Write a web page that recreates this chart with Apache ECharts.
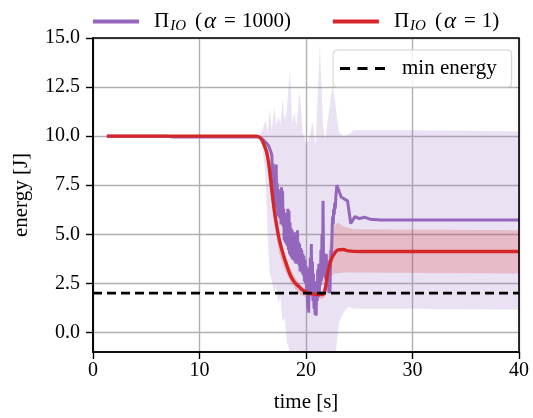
<!DOCTYPE html>
<html>
<head>
<meta charset="utf-8">
<script src="https://cdn.jsdelivr.net/npm/echarts@6/dist/echarts.min.js"></script>
<style>
html,body{margin:0;padding:0;background:#fff;}
#c{width:533px;height:418px;}
</style>
</head>
<body>
<div id="c"></div>
<script>
// ---- data ----
const xTicks = [0, 10, 20, 30, 40];
const yTicks = [0, 2.5, 5, 7.5, 10, 12.5, 15];
const minEnergy = 2;

const tRed = [1.3, 15.4, 15.8, 16.1, 16.3, 16.5, 16.8, 17.0, 17.2, 17.5, 17.9, 18.2, 18.5, 18.8, 19.1, 19.4, 19.7, 20.0, 20.4, 20.8, 21.2, 21.6, 21.8, 22.0, 22.2, 22.4, 22.7, 23.0, 23.5, 24.0, 25, 30, 40];
const vRed = [10.0, 10.0, 9.85, 9.5, 9.2, 8.6, 7.2, 6.3, 5.6, 4.7, 3.9, 3.4, 2.95, 2.65, 2.45, 2.3, 2.15, 2.05, 1.98, 1.95, 1.93, 1.93, 2.2, 2.9, 3.4, 3.75, 4.05, 4.2, 4.22, 4.15, 4.12, 4.12, 4.12];

const tPur = [1.3, 7.0, 7.5, 15.6, 16.0, 16.2, 16.5, 16.7,
  16.80, 16.85, 16.90, 16.95, 17.00, 17.05, 17.10, 17.15, 17.20, 17.25, 17.30, 17.35, 17.40, 17.45, 17.50, 17.55, 17.60, 17.65, 17.70, 17.75, 17.80, 17.85, 17.90, 17.95,
  18.00, 18.05, 18.10, 18.15, 18.20, 18.25, 18.30, 18.35, 18.40, 18.45, 18.50, 18.55, 18.60, 18.65, 18.70, 18.75, 18.80, 18.85, 18.90, 18.95,
  19.00, 19.05, 19.10, 19.15, 19.20, 19.25, 19.30, 19.35, 19.40, 19.45, 19.50, 19.55, 19.60, 19.65, 19.70, 19.75, 19.80, 19.85, 19.90, 19.95,
  20.00, 20.05, 20.10, 20.15, 20.20, 20.25, 20.30, 20.35, 20.40, 20.45, 20.50, 20.55, 20.60, 20.65, 20.70, 20.75, 20.80, 20.85, 20.90, 20.95,
  21.00, 21.05, 21.10, 21.15, 21.20, 21.25, 21.30, 21.35, 21.40, 21.45, 21.50, 21.55, 21.60, 21.65, 21.70, 21.75, 21.80, 21.85, 21.90, 21.95,
  22.00, 22.05, 22.10, 22.15, 22.20, 22.25, 22.30, 22.35, 22.40, 22.45, 22.50, 22.55, 22.60, 22.65, 22.70, 22.75, 22.80, 22.85, 22.90,
  23.0, 23.1, 23.3, 23.6, 23.9, 24.2, 24.6, 25.0, 25.5, 26.0, 27, 40];
const vPur = [10.0, 10.0, 9.96, 9.95, 9.8, 9.7, 9.5, 9.2,
  9.0, 7.2, 8.6, 6.9, 8.0, 6.4, 8.2, 6.6, 8.55, 6.3, 7.6, 5.9, 7.3, 6.0, 7.1, 5.8, 7.0, 5.5, 7.4, 5.6, 7.2, 5.4, 6.3, 4.7,
  6.1, 4.6, 5.9, 4.5, 6.0, 4.4, 6.3, 4.2, 6.2, 4.0, 5.6, 3.9, 5.3, 3.8, 5.2, 3.7, 5.0, 3.9, 4.9, 3.6,
  5.1, 3.5, 4.8, 3.7, 5.2, 3.5, 4.6, 3.4, 4.5, 3.1, 4.3, 3.2, 4.2, 3.0, 4.0, 2.9, 3.9, 2.6, 3.7, 2.5,
  3.4, 2.0, 3.2, 1.2, 2.8, 1.0, 3.3, 2.0, 3.8, 2.2, 4.5, 2.0, 3.6, 1.6, 3.0, 1.2, 2.6, 0.9, 2.2, 0.85,
  2.4, 1.6, 3.2, 1.8, 3.5, 2.0, 3.0, 2.4, 4.2, 2.6, 5.0, 3.0, 6.7, 3.5, 4.0, 2.8, 3.8, 2.7, 4.0, 2.9,
  3.7, 2.4, 3.0, 2.0, 2.6, 2.0, 3.5, 4.2, 4.0, 5.2, 5.9, 5.5, 6.3, 6.0, 6.6, 6.3, 6.9, 7.2, 7.5,
  7.55, 7.2, 6.9, 6.8, 6.7, 5.55, 5.9, 5.8, 5.87, 5.77, 5.73, 5.72];

const tPurBand = [15.5, 15.9, 16.2, 16.4, 16.6, 16.8, 17.0, 17.2, 17.4, 17.6, 17.8, 18.0, 18.2, 18.5, 18.7, 18.9, 19.1, 19.4, 19.7, 20.0, 20.3, 20.6, 20.9, 21.3, 21.6, 21.8, 22.1, 22.5, 22.8, 22.9, 23.1, 23.5, 24.0, 24.5, 30, 40];
const purLow  = [10.0, 9.5, 8.0, 5.0, 3.0, 2.6, 2.0, 2.3, 1.5, 1.8, 0.5, 0.8, -0.5, -2, -2, -2, -2, -2, -2, -2, -2, -2, -2, -2, -2, -2, -2, -2, -2, -0.5, 0.5, 1.0, 1.3, 1.2, 1.2, 1.15];
const purHigh = [10.0, 10.3, 10.8, 10.2, 11.4, 10.3, 11.5, 10.5, 11.0, 10.6, 11.9, 10.8, 11.4, 13.4, 10.6, 11.2, 10.5, 12.3, 10.2, 9.6, 9.8, 10.8, 9.5, 14.7, 10.5, 9.8, 11.0, 12.6, 11.5, 11.0, 10.2, 10.0, 10.1, 10.3, 10.3, 10.25];

const tRedBand = [15.5, 16.0, 16.5, 17.0, 17.5, 18.0, 18.5, 19.0, 19.5, 20.0, 20.5, 21.0, 21.5, 21.8, 22.0, 22.3, 22.6, 23.0, 23.5, 24.5, 40];
const redLow  = [10.0, 9.6, 8.2, 5.6, 4.0, 3.2, 2.6, 2.2, 1.9, 1.8, 1.75, 1.7, 1.7, 1.8, 2.3, 2.8, 3.0, 3.0, 3.05, 3.05, 3.0];
const redHigh = [10.0, 9.9, 8.9, 6.6, 5.0, 4.0, 3.3, 2.8, 2.4, 2.25, 2.15, 2.1, 2.1, 2.3, 3.5, 4.8, 5.4, 5.6, 5.4, 5.25, 5.2];

const NAME_P = 'ΠIO (α = 1000)';
const NAME_R = 'ΠIO (α = 1)';
const NAME_M = 'min energy';

// ---- build ----
const zip = (t, v) => t.map((x, i) => [x, v[i]]);
const zip3 = (t, a, b) => t.map((x, i) => [x, a[i], b[i]]);

const FONT = 'Liberation Serif';
const PURPLE = '#9467bd';
const RED = '#d62728';

function band(t, lo, hi, color) {
  return {
    type: 'custom', silent: true, z: 1,
    data: zip3(t, lo, hi),
    encode: {x: 0, y: [1, 2]},
    renderItem: function (params, api) {
      if (params.dataIndex !== 0) return null;
      const top = t.map((x, i) => api.coord([x, hi[i]]));
      const bot = t.map((x, i) => api.coord([x, lo[i]])).reverse();
      const cs = params.coordSys;
      const pts = echarts.graphic.clipPointsByRect(top.concat(bot),
        {x: cs.x, y: cs.y, width: cs.width, height: cs.height});
      return {type: 'polygon', shape: {points: pts}, style: {fill: color, stroke: null}, silent: true};
    }
  };
}

const chart = echarts.init(document.getElementById('c'), null, {renderer: 'canvas'});
const LF = 21;
const rich = {
  g: {width: 10},
  n: {fontFamily: FONT, fontSize: LF, color: '#000'},
  e: {fontFamily: FONT, fontSize: LF, color: '#000', padding: [0, 6, 0, 7]},
  s: {fontFamily: FONT, fontSize: 15, fontStyle: 'italic', color: '#000', padding: [10, 9, 0, 1]},
  i: {fontFamily: FONT, fontSize: 23, fontStyle: 'italic', color: '#000', padding: [0, 1, 0, 2]}
};
chart.setOption({
  animation: false,
  backgroundColor: '#fff',
  grid: {left: 93, right: 14, top: 38, bottom: 61, containLabel: false,
         show: true, borderColor: '#000', borderWidth: 1.6, backgroundColor: 'transparent', z: 10},
  legend: [{
    data: [NAME_P, NAME_R],
    top: 5, left: 88,
    itemWidth: 46, itemHeight: 12, itemGap: 42,
    icon: 'path://M0,0 L46,0 L46,4 L0,4 Z',
    textStyle: {fontFamily: FONT, fontSize: LF, color: '#000', rich: rich},
    formatter: function (name) {
      if (name === NAME_P) return '{g|}{n|Π}{s|IO}{n|(}{i|α}{e|=}{n|1000)}';
      return '{g|}{n|Π}{s|IO}{n|(}{i|α}{e|=}{n|1)}';
    }
  }, {
    data: [NAME_M],
    left: 333, top: 50,
    itemWidth: 45, itemHeight: 3,
    icon: 'path://M0,0 h10 v3 h-10 z M17.5,0 h10 v3 h-10 z M35,0 h10 v3 h-10 z',
    padding: [8, 15, 8, 7],
    backgroundColor: 'rgba(255,255,255,0.85)',
    borderColor: '#d0d0d0', borderWidth: 1, borderRadius: 4,
    textStyle: {fontFamily: FONT, fontSize: LF, color: '#000', rich: {g: {width: 12}, n: {fontFamily: FONT, fontSize: LF, color: '#000'}}},
    formatter: name => '{g|}{n|' + name + '}'
  }],
  xAxis: {
    type: 'value', min: xTicks[0], max: xTicks[xTicks.length - 1], interval: 10,
    name: 'time [s]', nameLocation: 'middle', nameGap: 40,
    nameTextStyle: {fontFamily: FONT, fontSize: 21, color: '#000'},
    axisLine: {onZero: false, lineStyle: {color: '#000', width: 1.6}},
    axisTick: {show: true, inside: false, length: 7, lineStyle: {color: '#000', width: 1.4}},
    axisLabel: {fontFamily: FONT, fontSize: 20, color: '#000', margin: 9},
    splitLine: {show: true, lineStyle: {color: '#b0b0b0', width: 1.4}}
  },
  yAxis: {
    type: 'value', min: -1, max: 15,
    name: 'energy [J]', nameLocation: 'middle', nameGap: 61, nameRotate: 90,
    nameTextStyle: {fontFamily: FONT, fontSize: 21, color: '#000'},
    axisLine: {onZero: false, lineStyle: {color: '#000', width: 1.6}},
    axisTick: {show: true, inside: false, length: 7, lineStyle: {color: '#000', width: 1.4}, customValues: yTicks},
    axisLabel: {fontFamily: FONT, fontSize: 20, color: '#000', margin: 13, customValues: yTicks,
      formatter: v => v.toFixed(1)},
    splitLine: {show: true, lineStyle: {color: '#b0b0b0', width: 1.4}}
  },
  series: [
    band(tPurBand, purLow, purHigh, 'rgba(148,103,189,0.2)'),
    band(tRedBand, redLow, redHigh, 'rgba(214,39,40,0.2)'),
    {type: 'line', name: NAME_P, data: zip(tPur, vPur), symbol: 'none',
     lineStyle: {color: PURPLE, width: 3}, itemStyle: {color: PURPLE}, z: 3},
    {type: 'line', name: NAME_R, data: zip(tRed, vRed), symbol: 'none', smooth: 0.3,
     lineStyle: {color: RED, width: 3.4}, itemStyle: {color: RED}, z: 4},
    {type: 'line', name: NAME_M, data: [[xTicks[0], minEnergy], [xTicks[xTicks.length - 1], minEnergy]],
     symbol: 'none', lineStyle: {color: '#000', width: 2.6, type: [9, 5]}, itemStyle: {color: '#000'}, z: 5}
  ]
});
</script>
</body>
</html>
